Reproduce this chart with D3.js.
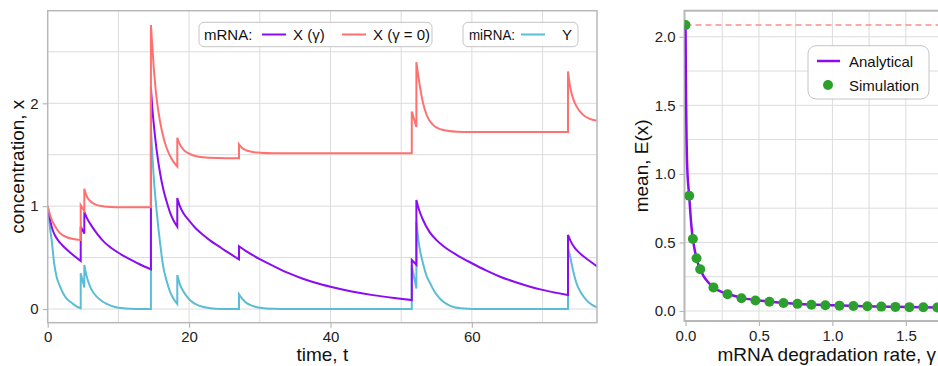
<!DOCTYPE html>
<html><head><meta charset="utf-8">
<script src="https://cdn.jsdelivr.net/npm/d3@7"></script>
<style>
body{margin:0;background:#fff;}
svg{display:block;font-family:"Liberation Sans",Arial,Helvetica,sans-serif;}
</style></head>
<body><svg id="c" width="938" height="366"></svg>
<script>
// ---------- DATA (left panel: time series, piecewise segments between pulses) ----------
const leftXTicks = [0, 20, 40, 60];
const leftYTicks = [0, 1, 2];
const rightXTicks = [0, 0.5, 1.0, 1.5];
const rightYTicks = [0, 0.5, 1.0, 1.5, 2.0];

const yMiRNA = [
  [[0,1.0],[0.3,0.8],[0.56,0.67],[0.9,0.45],[1.27,0.31],[1.74,0.22],[2.2,0.15],[2.68,0.10],[3.2,0.07],[3.62,0.048],[4.2,0.02],[4.67,0.007]],
  [[4.67,0.347],[5.18,0.21]],
  [[5.18,0.428],[5.5,0.32],[5.98,0.22],[6.45,0.16],[6.93,0.12],[7.6,0.08],[8.35,0.05],[9.5,0.02],[11,0.006],[12.5,0.001],[14.6,0]],
  [[14.6,1.77],[14.8,1.5],[15.0,1.28],[15.4,0.96],[15.9,0.64],[16.35,0.41],[16.8,0.28],[17.3,0.17],[17.8,0.1],[18.33,0.05]],
  [[18.33,0.33],[18.7,0.24],[19.2,0.17],[20.1,0.088],[21.5,0.03],[23,0.008],[24.5,0.001],[27.06,0]],
  [[27.06,0.143],[27.5,0.1],[28.1,0.06],[29,0.03],[30,0.012],[32,0.002],[34,0],[51.5,0]],
  [[51.5,0.42],[52.15,0.2]],
  [[52.15,0.85],[52.5,0.64],[53.1,0.44],[53.6,0.32],[54.1,0.25],[54.8,0.16],[55.5,0.10],[56.4,0.05],[57.4,0.02],[59,0.005],[61,0],[73.6,0]],
  [[73.6,0.59],[73.9,0.51],[74.3,0.38],[74.8,0.25],[75.5,0.15],[76.2,0.087],[77,0.04],[77.7,0.017]]
];

const xGamma = [
  [[0,1.0],[0.3,0.88],[0.6,0.79],[1,0.72],[1.5,0.665],[2,0.625],[2.7,0.578],[3.5,0.53],[4.67,0.467]],
  [[4.67,0.80],[5.18,0.735]],
  [[5.18,0.946],[5.5,0.89],[6,0.83],[7,0.73],[8,0.65],[9,0.593],[10,0.547],[11,0.507],[12,0.47],[13,0.435],[14.6,0.385]],
  [[14.6,2.155],[14.8,1.95],[15,1.8],[15.4,1.55],[15.9,1.32],[16.4,1.15],[16.8,1.05],[17.3,0.94],[17.8,0.86],[18.33,0.80]],
  [[18.33,1.08],[18.7,1.0],[19.2,0.93],[20,0.86],[21,0.78],[22,0.72],[23,0.665],[24,0.618],[25,0.573],[26,0.528],[27.06,0.483]],
  [[27.06,0.61],[28,0.565],[29,0.523],[30,0.484],[32,0.415],[34,0.351],[36,0.297],[38,0.253],[40,0.217],[43,0.171],[46,0.135],[49,0.107],[51.5,0.087]],
  [[51.5,0.476],[52.15,0.43]],
  [[52.15,1.06],[52.5,0.97],[53,0.88],[54,0.75],[55,0.67],[56,0.61],[58,0.52],[60,0.445],[62,0.375],[64,0.314],[66,0.265],[68,0.222],[70,0.186],[72,0.157],[73.6,0.136]],
  [[73.6,0.72],[74,0.655],[74.5,0.6],[75,0.56],[76,0.5],[77,0.45],[77.7,0.415]]
];

const xGammaZero = [
  [[0,1.0],[0.5,0.88],[1,0.81],[1.7,0.74],[2.65,0.70],[3.6,0.68],[4.67,0.672]],
  [[4.67,1.01],[5.18,0.955]],
  [[5.18,1.17],[5.5,1.10],[6,1.05],[6.5,1.025],[7,1.01],[8,0.997],[9,0.992],[10,0.99],[14.6,0.99]],
  [[14.6,2.76],[15,2.35],[15.4,2.05],[15.9,1.82],[16.4,1.66],[16.8,1.57],[17.3,1.49],[17.8,1.43],[18.33,1.385]],
  [[18.33,1.665],[18.7,1.6],[19.2,1.55],[20,1.51],[21,1.485],[22,1.475],[24,1.468],[27.06,1.465]],
  [[27.06,1.6],[27.5,1.565],[28,1.545],[29,1.527],[30,1.52],[32,1.515],[40,1.514],[51.5,1.514]],
  [[51.5,1.92],[52.15,1.77]],
  [[52.15,2.40],[52.66,2.16],[53.1,2.0],[53.6,1.886],[54.5,1.79],[55.96,1.74],[57.85,1.724],[60,1.72],[73.6,1.72]],
  [[73.6,2.31],[73.9,2.16],[74.3,2.05],[74.8,1.97],[75.7,1.89],[76.6,1.85],[77.7,1.83]]
];

// ---------- DATA (right panel) ----------
const simGamma = [0, 0.025, 0.05, 0.075, 0.1, 0.19, 0.286, 0.381, 0.476, 0.571, 0.667, 0.762, 0.857, 0.952, 1.048, 1.143, 1.238, 1.333, 1.429, 1.524, 1.619, 1.714, 1.81, 1.905, 2.0];
const simMean  = [2.085, 0.84, 0.525, 0.385, 0.305, 0.172, 0.122, 0.093, 0.077, 0.067, 0.058, 0.052, 0.046, 0.042, 0.039, 0.036, 0.034, 0.032, 0.030, 0.028, 0.027, 0.025, 0.024, 0.023, 0.022];
const anaGamma = [0, 0.002, 0.004, 0.007, 0.01, 0.015, 0.02, 0.025, 0.03, 0.04, 0.05, 0.06, 0.075, 0.09, 0.1, 0.12, 0.15, 0.19, 0.25, 0.3, 0.4, 0.5, 0.6, 0.7, 0.8, 0.9, 1.0, 1.2, 1.4, 1.6, 1.8, 2.0];
const anaMean  = [2.085, 1.75, 1.5, 1.25, 1.1, 0.97, 0.9, 0.84, 0.76, 0.62, 0.525, 0.46, 0.385, 0.33, 0.305, 0.26, 0.215, 0.172, 0.138, 0.12, 0.092, 0.077, 0.065, 0.057, 0.05, 0.045, 0.041, 0.035, 0.031, 0.028, 0.025, 0.023];
const gammaZeroMean = 2.085;

// ---------- STYLE ----------
const C_PURPLE = "#8c0cf2", C_RED = "#ff7070", C_CYAN = "#5bbcd6", C_GREEN = "#2ca02c";
const GRID = "#dcdcdc", FRAME = "#b8b8b8";

const svg = d3.select("#c");

function segPath(segs, x, y) {
  const line = d3.line().x(d => x(d[0])).y(d => y(d[1])).curve(d3.curveMonotoneX);
  return segs.map((s, i) => { const p = line(s); return i === 0 ? p : "L" + p.slice(1); }).join("");
}

function styleAxis(g) {
  g.select(".domain").remove();
  g.selectAll(".tick line").attr("stroke", FRAME).attr("stroke-width", 1.2);
  g.selectAll(".tick text").attr("fill", "#222").style("font-size", "15px").style("font-family", '"Liberation Sans",Arial,sans-serif');
}

// ================= LEFT PANEL =================
const L = {x0: 47.7, x1: 597, y0: 10.7, y1: 322.7};
const lx = d3.scaleLinear().domain([0, 77.7]).range([L.x0, L.x1]);
const ly = d3.scaleLinear().domain([-0.133, 2.9]).range([L.y1, L.y0]);

svg.append("clipPath").attr("id", "clipL").append("rect")
  .attr("x", L.x0).attr("y", L.y0).attr("width", L.x1 - L.x0).attr("height", L.y1 - L.y0);

const gl = svg.append("g");
gl.selectAll(".vg").data(d3.range(10, 78, 10)).join("line")
  .attr("x1", d => lx(d)).attr("x2", d => lx(d)).attr("y1", L.y0).attr("y2", L.y1)
  .attr("stroke", GRID).attr("stroke-width", 1);
gl.selectAll(".hg").data(d3.range(0, 2.9, 0.5)).join("line")
  .attr("y1", d => ly(d)).attr("y2", d => ly(d)).attr("x1", L.x0).attr("x2", L.x1)
  .attr("stroke", GRID).attr("stroke-width", 1);

const lines = gl.append("g").attr("clip-path", "url(#clipL)");
lines.append("path").attr("d", segPath(yMiRNA, lx, ly)).attr("fill", "none").attr("stroke", C_CYAN).attr("stroke-width", 2);
lines.append("path").attr("d", segPath(xGamma, lx, ly)).attr("fill", "none").attr("stroke", C_PURPLE).attr("stroke-width", 2);
lines.append("path").attr("d", segPath(xGammaZero, lx, ly)).attr("fill", "none").attr("stroke", C_RED).attr("stroke-width", 2);

gl.append("rect").attr("x", L.x0).attr("y", L.y0).attr("width", L.x1 - L.x0).attr("height", L.y1 - L.y0)
  .attr("fill", "none").attr("stroke", FRAME).attr("stroke-width", 1.5);

gl.append("g").attr("transform", `translate(0,${L.y1})`)
  .call(d3.axisBottom(lx).tickValues(leftXTicks).tickSize(5).tickPadding(4).tickFormat(d3.format("d")))
  .call(styleAxis);
gl.append("g").attr("transform", `translate(${L.x0},0)`)
  .call(d3.axisLeft(ly).tickValues(leftYTicks).tickSize(5).tickPadding(4).tickFormat(d3.format("d")))
  .call(styleAxis);

gl.append("text").attr("x", (L.x0 + L.x1) / 2).attr("y", 361).attr("text-anchor", "middle")
  .style("font-size", "19px").attr("fill", "#111").text("time, t");
gl.append("text").attr("transform", `translate(24,${(L.y0 + L.y1) / 2}) rotate(-90)`).attr("text-anchor", "middle")
  .style("font-size", "19px").attr("fill", "#111").text("concentration, x");

// legends
function legendBox(g, x, y, w, h) {
  g.append("rect").attr("x", x).attr("y", y).attr("width", w).attr("height", h).attr("rx", 5)
    .attr("fill", "rgba(255,255,255,0.85)").attr("stroke", "#c4c4c4").attr("stroke-width", 1);
}
const lg = svg.append("g").style("font-size", "15px").attr("fill", "#111");
legendBox(lg, 199, 22.3, 233, 24.4);
lg.append("text").attr("x", 204).attr("y", 40).text("mRNA:");
lg.append("line").attr("x1", 262).attr("x2", 286).attr("y1", 34.5).attr("y2", 34.5).attr("stroke", C_PURPLE).attr("stroke-width", 2);
lg.append("text").attr("x", 293).attr("y", 40).text("X (γ)");
lg.append("line").attr("x1", 342).attr("x2", 366).attr("y1", 34.5).attr("y2", 34.5).attr("stroke", C_RED).attr("stroke-width", 2);
lg.append("text").attr("x", 373).attr("y", 40).text("X (γ = 0)");
legendBox(lg, 463, 22.3, 115, 24.4);
lg.append("text").attr("x", 469).attr("y", 40).attr("textLength", 46).attr("lengthAdjust", "spacingAndGlyphs").text("miRNA:");
lg.append("line").attr("x1", 521).attr("x2", 545).attr("y1", 34.5).attr("y2", 34.5).attr("stroke", C_CYAN).attr("stroke-width", 2);
lg.append("text").attr("x", 562).attr("y", 40).text("Y");

// ================= RIGHT PANEL =================
const R = {x0: 684.5, x1: 969, y0: 10.7, y1: 321};
const rx = d3.scaleLinear().domain([-0.007, 1.93]).range([R.x0, R.x1]);
const ry = d3.scaleLinear().domain([-0.073, 2.19]).range([R.y1, R.y0]);

svg.append("clipPath").attr("id", "clipR").append("rect")
  .attr("x", R.x0).attr("y", R.y0 - 6).attr("width", R.x1 - R.x0 + 10).attr("height", R.y1 - R.y0 + 6);

const gr = svg.append("g");
gr.selectAll(".vg").data(d3.range(0.25, 1.95, 0.25)).join("line")
  .attr("x1", d => rx(d)).attr("x2", d => rx(d)).attr("y1", R.y0).attr("y2", R.y1)
  .attr("stroke", GRID).attr("stroke-width", 1);
gr.selectAll(".hg").data(d3.range(0, 2.2, 0.25)).join("line")
  .attr("y1", d => ry(d)).attr("y2", d => ry(d)).attr("x1", R.x0).attr("x2", R.x1)
  .attr("stroke", GRID).attr("stroke-width", 1);

gr.append("rect").attr("x", R.x0).attr("y", R.y0).attr("width", R.x1 - R.x0).attr("height", R.y1 - R.y0)
  .attr("fill", "none").attr("stroke", FRAME).attr("stroke-width", 2);

const rc = gr.append("g").attr("clip-path", "url(#clipR)");
rc.append("line").attr("x1", rx(0)).attr("x2", R.x1).attr("y1", ry(gammaZeroMean)).attr("y2", ry(gammaZeroMean))
  .attr("stroke", "#ff8a8a").attr("stroke-width", 1.5).attr("stroke-dasharray", "6,4");
const anaPts = anaGamma.map((g, i) => [g, anaMean[i]]);
rc.append("path").attr("d", d3.line().x(d => rx(d[0])).y(d => ry(d[1])).curve(d3.curveMonotoneX)(anaPts))
  .attr("fill", "none").attr("stroke", C_PURPLE).attr("stroke-width", 2.5);
rc.selectAll("circle").data(simGamma.map((g, i) => [g, simMean[i]])).join("circle")
  .attr("cx", d => rx(d[0])).attr("cy", d => ry(d[1])).attr("r", 5).attr("fill", C_GREEN);

gr.append("g").attr("transform", `translate(0,${R.y1})`)
  .call(d3.axisBottom(rx).tickValues(rightXTicks).tickSize(5).tickPadding(4).tickFormat(d3.format(".1f")))
  .call(styleAxis);
gr.append("g").attr("transform", `translate(${R.x0},0)`)
  .call(d3.axisLeft(ry).tickValues(rightYTicks).tickSize(5).tickPadding(4).tickFormat(d3.format(".1f")))
  .call(styleAxis);

gr.append("text").attr("x", (R.x0 + R.x1) / 2).attr("y", 361).attr("text-anchor", "middle")
  .style("font-size", "19px").attr("fill", "#111").text("mRNA degradation rate, γ");
gr.append("text").attr("transform", `translate(648,${(R.y0 + R.y1) / 2}) rotate(-90)`).attr("text-anchor", "middle")
  .style("font-size", "19px").attr("fill", "#111").text("mean, E(x)");

const rl = svg.append("g").style("font-size", "15px").attr("fill", "#111");
rl.append("rect").attr("x", 808).attr("y", 45.7).attr("width", 121).attr("height", 53.3).attr("rx", 8)
  .attr("fill", "rgba(255,255,255,0.9)").attr("stroke", "#c4c4c4").attr("stroke-width", 1);
rl.append("line").attr("x1", 817).attr("x2", 840).attr("y1", 61).attr("y2", 61).attr("stroke", C_PURPLE).attr("stroke-width", 2.5);
rl.append("text").attr("x", 849).attr("y", 66.5).text("Analytical");
rl.append("circle").attr("cx", 828).attr("cy", 85).attr("r", 5).attr("fill", C_GREEN);
rl.append("text").attr("x", 849).attr("y", 90.5).text("Simulation");
</script></body></html>
